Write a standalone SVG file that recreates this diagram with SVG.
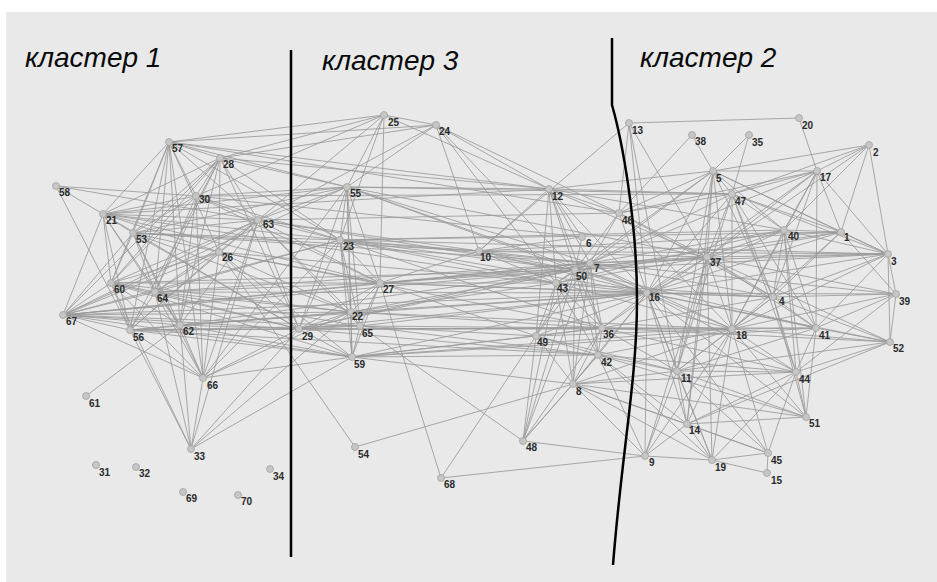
<svg xmlns="http://www.w3.org/2000/svg" width="937" height="582" viewBox="0 0 937 582">
<style>
.e path{fill:none;stroke:#999;stroke-width:0.85}
.n circle{fill:#c6c6c6;stroke:#a2a2a2;stroke-width:0.8}
.n text{font-family:"Liberation Sans",Arial,sans-serif;font-weight:bold;font-size:10px;fill:#2a2a2a}
.t{font-family:"Liberation Sans",Arial,sans-serif;font-style:italic;font-size:28px;fill:#0a0a0a}
.b{fill:none;stroke:#000;stroke-width:2.5}
</style>
<rect x="0" y="0" width="937" height="582" fill="#fff"/>
<rect x="6" y="12" width="931" height="570" fill="#e9e9e9"/>
<g class="e" id="connectors">
<path d="M169 142L103 214M169 142L133 233M169 142L196 196M169 142L220 158M169 142L111 283M169 142L155 292M169 142L219 252M169 142L258 220M169 142L130 330M169 142L180 325M169 142L203 378M169 142L384 115M169 142L436 125M169 142L347 187M169 142L340 240M169 142L619 213M169 142L549 189"/>
<path d="M220 158L103 214M220 158L133 233M220 158L196 196M220 158L219 252M220 158L258 220M220 158L111 283M220 158L155 292M220 158L130 330M220 158L180 325M220 158L63 315M220 158L384 115M220 158L436 125M220 158L347 187M220 158L340 240M220 158L299 329M220 158L549 189"/>
<path d="M56 186L103 214M56 186L196 196M56 186L130 330M56 186L258 220"/>
<path d="M196 196L103 214M196 196L133 233M196 196L258 220M196 196L155 292M196 196L180 325M196 196L203 378M196 196L111 283M196 196L347 187M196 196L340 240M196 196L384 115M196 196L380 283M196 196L582 237M196 196L732 194"/>
<path d="M103 214L133 233M103 214L111 283M103 214L155 292M103 214L258 220M103 214L219 252M103 214L130 330M103 214L180 325M103 214L63 315M103 214L340 240M103 214L347 187M103 214L299 329M103 214L380 283M103 214L549 189M103 214L556 283"/>
<path d="M133 233L258 220M133 233L219 252M133 233L111 283M133 233L155 292M133 233L203 378M133 233L63 315M133 233L180 325M133 233L340 240M133 233L299 329M133 233L347 187M133 233L351 312M133 233L479 251M133 233L590 263"/>
<path d="M258 220L219 252M258 220L111 283M258 220L155 292M258 220L63 315M258 220L130 330M258 220L180 325M258 220L203 378M258 220L191 449M258 220L347 187M258 220L340 240M258 220L299 329M258 220L351 312M258 220L380 283M258 220L384 115M258 220L436 125M258 220L360 326M258 220L619 213M258 220L479 251M258 220L575 270"/>
<path d="M219 252L111 283M219 252L155 292M219 252L63 315M219 252L130 330M219 252L203 378M219 252L299 329M219 252L351 312M219 252L380 283M219 252L355 447M219 252L352 357M219 252L556 283M219 252L602 328"/>
<path d="M111 283L155 292M111 283L63 315M111 283L130 330M111 283L180 325M111 283L203 378M111 283L191 449M111 283L299 329M111 283L351 312M111 283L352 357M111 283L380 283M111 283L575 270"/>
<path d="M155 292L63 315M155 292L130 330M155 292L180 325M155 292L203 378M155 292L191 449M155 292L299 329M155 292L351 312M155 292L380 283M155 292L360 326M155 292L340 240M155 292L647 293M155 292L590 263"/>
<path d="M63 315L130 330M63 315L180 325M63 315L203 378M63 315L340 240M63 315L299 329M63 315L351 312M63 315L380 283M63 315L360 326M63 315L352 357M63 315L347 187M63 315L590 263M63 315L575 270M63 315L647 293"/>
<path d="M130 330L180 325M130 330L203 378M130 330L191 449M130 330L299 329M130 330L351 312M130 330L352 357M130 330L360 326M130 330L602 328M130 330L598 355"/>
<path d="M180 325L203 378M180 325L191 449M180 325L86 396M180 325L299 329M180 325L352 357M180 325L351 312M180 325L575 270M180 325L647 293"/>
<path d="M203 378L191 449M203 378L299 329M203 378L352 357M203 378L351 312M203 378L340 240M203 378L347 187"/>
<path d="M191 449L299 329M191 449L352 357M191 449L351 312"/>
<path d="M384 115L436 125M384 115L380 283M384 115L347 187M384 115L340 240M384 115L549 189"/>
<path d="M436 125L549 189M436 125L479 251M436 125L556 283M436 125L575 270M436 125L619 213M436 125L347 187"/>
<path d="M347 187L340 240M347 187L380 283M347 187L351 312M347 187L299 329M347 187L360 326M347 187L352 357M347 187L549 189M347 187L575 270M347 187L590 263M347 187L732 194M347 187L707 257M347 187L647 293"/>
<path d="M340 240L380 283M340 240L351 312M340 240L299 329M340 240L360 326M340 240L352 357M340 240L479 251M340 240L575 270M340 240L590 263M340 240L556 283M340 240L602 328M340 240L647 293M340 240L888 254M340 240L784 230M340 240L841 232"/>
<path d="M380 283L351 312M380 283L360 326M380 283L352 357M380 283L299 329M380 283L479 251M380 283L441 478M380 283L575 270M380 283L556 283M380 283L590 263M380 283L536 336M380 283L647 293M380 283L773 297M380 283L707 257"/>
<path d="M351 312L360 326M351 312L299 329M351 312L352 357M351 312L575 270M351 312L602 328M351 312L556 283M351 312L647 293M351 312L732 329"/>
<path d="M360 326L299 329M360 326L352 357M360 326L536 336M360 326L602 328M360 326L598 355M360 326L647 293M360 326L523 441"/>
<path d="M299 329L352 357M299 329L575 270M299 329L602 328M299 329L598 355M299 329L590 263M299 329L647 293M299 329L732 329"/>
<path d="M352 357L602 328M352 357L598 355M352 357L536 336M352 357L573 384M352 357L647 293M352 357L732 329M352 357L816 328"/>
<path d="M479 251L575 270M479 251L590 263M479 251L556 283M479 251L549 189M479 251L582 237M479 251L647 293M479 251L707 257M479 251L888 254M479 251L841 232M479 251L629 123"/>
<path d="M549 189L582 237M549 189L590 263M549 189L575 270M549 189L556 283M549 189L536 336M549 189L619 213M549 189L602 328M549 189L647 293M549 189L707 257M549 189L732 194M549 189L784 230M549 189L713 171"/>
<path d="M582 237L575 270"/>
<path d="M590 263L575 270M590 263L556 283M590 263L536 336M590 263L602 328M590 263L598 355M590 263L573 384M590 263L619 213M590 263L647 293M590 263L707 257M590 263L773 297M590 263L888 254M590 263L784 230M590 263L732 329M590 263L896 294M590 263L713 171M590 263L817 171M590 263L523 441"/>
<path d="M575 270L556 283M575 270L536 336M575 270L602 328M575 270L598 355M575 270L573 384M575 270L619 213M575 270L647 293M575 270L707 257M575 270L888 254M575 270L816 328M575 270L841 232M575 270L732 194M575 270L713 171M575 270L523 441"/>
<path d="M556 283L536 336M556 283L602 328M556 283L598 355M556 283L573 384M556 283L647 293M556 283L707 257M556 283L773 297M556 283L732 329M556 283L784 230M556 283L523 441"/>
<path d="M536 336L602 328M536 336L598 355M536 336L573 384M536 336L523 441M536 336L647 293M536 336L732 329M536 336L677 371M536 336L441 478"/>
<path d="M602 328L598 355M602 328L573 384M602 328L523 441M602 328L647 293M602 328L732 329M602 328L707 257M602 328L816 328M602 328L677 371M602 328L796 372M602 328L890 342M602 328L773 297"/>
<path d="M598 355L573 384M598 355L523 441M598 355L647 293M598 355L677 371M598 355L732 329M598 355L687 424M598 355L645 456M598 355L712 460M598 355L806 417M598 355L796 372"/>
<path d="M573 384L523 441M573 384L355 447M573 384L677 371M573 384L687 424M573 384L645 456M573 384L712 460M573 384L768 453M573 384L647 293M573 384L732 329M573 384L806 417M573 384L796 372"/>
<path d="M523 441L645 456M441 478L645 456"/>
<path d="M619 213L647 293M619 213L707 257M619 213L629 123M619 213L692 135M619 213L713 171M619 213L817 171M619 213L732 194M619 213L773 297M619 213L732 329"/>
<path d="M629 123L799 118M629 123L647 293M629 123L707 257M629 123L677 371M799 118L817 171M692 135L713 171M749 135L713 171M749 135L732 194"/>
<path d="M869 145L713 171M869 145L817 171M869 145L888 254M869 145L841 232M869 145L784 230M869 145L707 257M869 145L732 194"/>
<path d="M713 171L817 171M713 171L732 194M713 171L707 257M713 171L647 293M713 171L773 297M713 171L732 329M713 171L841 232M713 171L784 230M713 171L888 254M713 171L677 371M713 171L687 424"/>
<path d="M817 171L732 194M817 171L707 257M817 171L784 230M817 171L841 232M817 171L888 254M817 171L647 293M817 171L773 297M817 171L732 329M817 171L816 328"/>
<path d="M732 194L707 257M732 194L784 230M732 194L647 293M732 194L732 329M732 194L773 297M732 194L816 328M732 194L796 372M732 194L677 371M732 194L841 232M732 194L888 254"/>
<path d="M784 230L841 232M784 230L707 257M784 230L647 293M784 230L773 297M784 230L732 329M784 230L816 328M784 230L888 254M784 230L796 372M784 230L806 417"/>
<path d="M841 232L888 254M841 232L707 257M841 232L647 293M841 232L773 297M841 232L732 329M841 232L896 294"/>
<path d="M888 254L707 257M888 254L647 293M888 254L896 294M888 254L890 342M888 254L816 328M888 254L732 329M888 254L773 297"/>
<path d="M707 257L647 293M707 257L773 297M707 257L732 329M707 257L816 328M707 257L677 371M707 257L687 424M707 257L645 456M707 257L712 460M707 257L896 294M707 257L890 342"/>
<path d="M647 293L773 297M647 293L732 329M647 293L816 328M647 293L677 371M647 293L687 424M647 293L645 456M647 293L712 460M647 293L768 453M647 293L796 372M647 293L806 417M647 293L896 294M647 293L890 342"/>
<path d="M773 297L732 329M773 297L816 328M773 297L896 294M773 297L890 342M773 297L796 372M773 297L806 417M773 297L677 371"/>
<path d="M896 294L890 342M896 294L816 328M896 294L732 329M896 294L796 372"/>
<path d="M732 329L816 328M732 329L796 372M732 329L677 371M732 329L687 424M732 329L645 456M732 329L712 460M732 329L768 453M732 329L806 417M732 329L890 342"/>
<path d="M816 328L890 342M816 328L796 372M816 328L806 417M816 328L677 371M890 342L796 372M890 342L677 371M890 342L687 424"/>
<path d="M796 372L806 417M796 372L677 371M796 372L687 424M796 372L712 460M796 372L768 453"/>
<path d="M677 371L687 424M677 371L645 456M677 371L712 460M677 371L768 453M677 371L806 417"/>
<path d="M687 424L645 456M687 424L712 460M687 424L768 453M687 424L806 417M645 456L712 460M712 460L767 473M712 460L768 453M768 453L767 473"/>
</g>
<path class="b" d="M291 50L291 557"/>
<path class="b" d="M612 38L612 105C622 140 637 220 637 300C637 380 622 450 613 565"/>
<text class="t" x="25" y="67">кластер 1</text>
<text class="t" x="322" y="70">кластер 3</text>
<text class="t" x="640" y="67">кластер 2</text>
<g id="n57" class="n"><circle cx="169" cy="142" r="3.5"/><text x="172" y="152">57</text></g>
<g id="n28" class="n"><circle cx="220" cy="158" r="3.5"/><text x="223" y="168">28</text></g>
<g id="n58" class="n"><circle cx="56" cy="186" r="3.5"/><text x="59" y="196">58</text></g>
<g id="n30" class="n"><circle cx="196" cy="196" r="3.5"/><text x="199" y="203">30</text></g>
<g id="n21" class="n"><circle cx="103" cy="214" r="3.5"/><text x="106" y="224">21</text></g>
<g id="n53" class="n"><circle cx="133" cy="233" r="3.5"/><text x="136" y="243">53</text></g>
<g id="n63" class="n"><circle cx="258" cy="220" r="3.5"/><text x="263" y="228">63</text></g>
<g id="n26" class="n"><circle cx="219" cy="252" r="3.5"/><text x="222" y="261">26</text></g>
<g id="n60" class="n"><circle cx="111" cy="283" r="3.5"/><text x="114" y="293">60</text></g>
<g id="n64" class="n"><circle cx="155" cy="292" r="3.5"/><text x="157" y="302">64</text></g>
<g id="n67" class="n"><circle cx="63" cy="315" r="3.5"/><text x="66" y="325">67</text></g>
<g id="n56" class="n"><circle cx="130" cy="330" r="3.5"/><text x="133" y="341">56</text></g>
<g id="n62" class="n"><circle cx="180" cy="325" r="3.5"/><text x="183" y="335">62</text></g>
<g id="n66" class="n"><circle cx="203" cy="378" r="3.5"/><text x="207" y="389">66</text></g>
<g id="n61" class="n"><circle cx="86" cy="396" r="3.5"/><text x="89" y="407">61</text></g>
<g id="n33" class="n"><circle cx="191" cy="449" r="3.5"/><text x="194" y="460">33</text></g>
<g id="n31" class="n"><circle cx="96" cy="465" r="3.5"/><text x="99" y="476">31</text></g>
<g id="n32" class="n"><circle cx="136" cy="467" r="3.5"/><text x="139" y="477">32</text></g>
<g id="n69" class="n"><circle cx="183" cy="492" r="3.5"/><text x="186" y="502">69</text></g>
<g id="n70" class="n"><circle cx="238" cy="495" r="3.5"/><text x="241" y="505">70</text></g>
<g id="n34" class="n"><circle cx="270" cy="469" r="3.5"/><text x="273" y="480">34</text></g>
<g id="n25" class="n"><circle cx="384" cy="115" r="3.5"/><text x="388" y="126">25</text></g>
<g id="n24" class="n"><circle cx="436" cy="125" r="3.5"/><text x="439" y="135">24</text></g>
<g id="n55" class="n"><circle cx="347" cy="187" r="3.5"/><text x="350" y="197">55</text></g>
<g id="n23" class="n"><circle cx="340" cy="240" r="3.5"/><text x="343" y="250">23</text></g>
<g id="n10" class="n"><circle cx="479" cy="251" r="3.5"/><text x="480" y="261">10</text></g>
<g id="n27" class="n"><circle cx="380" cy="283" r="3.5"/><text x="383" y="293">27</text></g>
<g id="n22" class="n"><circle cx="351" cy="312" r="3.5"/><text x="352" y="320">22</text></g>
<g id="n65" class="n"><circle cx="360" cy="326" r="3.5"/><text x="362" y="337">65</text></g>
<g id="n29" class="n"><circle cx="299" cy="329" r="3.5"/><text x="302" y="340">29</text></g>
<g id="n59" class="n"><circle cx="352" cy="357" r="3.5"/><text x="354" y="368">59</text></g>
<g id="n54" class="n"><circle cx="355" cy="447" r="3.5"/><text x="358" y="458">54</text></g>
<g id="n68" class="n"><circle cx="441" cy="478" r="3.5"/><text x="444" y="488">68</text></g>
<g id="n12" class="n"><circle cx="549" cy="189" r="3.5"/><text x="552" y="200">12</text></g>
<g id="n6" class="n"><circle cx="582" cy="237" r="3.5"/><text x="586" y="247">6</text></g>
<g id="n7" class="n"><circle cx="590" cy="263" r="3.5"/><text x="594" y="272">7</text></g>
<g id="n50" class="n"><circle cx="575" cy="270" r="3.5"/><text x="576" y="280">50</text></g>
<g id="n43" class="n"><circle cx="556" cy="283" r="3.5"/><text x="557" y="292">43</text></g>
<g id="n49" class="n"><circle cx="536" cy="336" r="3.5"/><text x="537" y="346">49</text></g>
<g id="n36" class="n"><circle cx="602" cy="328" r="3.5"/><text x="603" y="338">36</text></g>
<g id="n42" class="n"><circle cx="598" cy="355" r="3.5"/><text x="601" y="366">42</text></g>
<g id="n8" class="n"><circle cx="573" cy="384" r="3.5"/><text x="576" y="395">8</text></g>
<g id="n48" class="n"><circle cx="523" cy="441" r="3.5"/><text x="526" y="451">48</text></g>
<g id="n46" class="n"><circle cx="619" cy="213" r="3.5"/><text x="622" y="224">46</text></g>
<g id="n13" class="n"><circle cx="629" cy="123" r="3.5"/><text x="632" y="134">13</text></g>
<g id="n20" class="n"><circle cx="799" cy="118" r="3.5"/><text x="802" y="129">20</text></g>
<g id="n38" class="n"><circle cx="692" cy="135" r="3.5"/><text x="695" y="145">38</text></g>
<g id="n35" class="n"><circle cx="749" cy="135" r="3.5"/><text x="752" y="146">35</text></g>
<g id="n2" class="n"><circle cx="869" cy="145" r="3.5"/><text x="873" y="156">2</text></g>
<g id="n5" class="n"><circle cx="713" cy="171" r="3.5"/><text x="716" y="182">5</text></g>
<g id="n17" class="n"><circle cx="817" cy="171" r="3.5"/><text x="820" y="181">17</text></g>
<g id="n47" class="n"><circle cx="732" cy="194" r="3.5"/><text x="735" y="205">47</text></g>
<g id="n40" class="n"><circle cx="784" cy="230" r="3.5"/><text x="788" y="240">40</text></g>
<g id="n1" class="n"><circle cx="841" cy="232" r="3.5"/><text x="844" y="241">1</text></g>
<g id="n3" class="n"><circle cx="888" cy="254" r="3.5"/><text x="891" y="265">3</text></g>
<g id="n37" class="n"><circle cx="707" cy="257" r="3.5"/><text x="710" y="266">37</text></g>
<g id="n16" class="n"><circle cx="647" cy="293" r="3.5"/><text x="649" y="301">16</text></g>
<g id="n4" class="n"><circle cx="773" cy="297" r="3.5"/><text x="779" y="305">4</text></g>
<g id="n39" class="n"><circle cx="896" cy="294" r="3.5"/><text x="899" y="305">39</text></g>
<g id="n18" class="n"><circle cx="732" cy="329" r="3.5"/><text x="736" y="339">18</text></g>
<g id="n41" class="n"><circle cx="816" cy="328" r="3.5"/><text x="819" y="339">41</text></g>
<g id="n52" class="n"><circle cx="890" cy="342" r="3.5"/><text x="893" y="352">52</text></g>
<g id="n44" class="n"><circle cx="796" cy="372" r="3.5"/><text x="799" y="383">44</text></g>
<g id="n11" class="n"><circle cx="677" cy="371" r="3.5"/><text x="681" y="382">11</text></g>
<g id="n51" class="n"><circle cx="806" cy="417" r="3.5"/><text x="809" y="427">51</text></g>
<g id="n14" class="n"><circle cx="687" cy="424" r="3.5"/><text x="689" y="434">14</text></g>
<g id="n9" class="n"><circle cx="645" cy="456" r="3.5"/><text x="649" y="466">9</text></g>
<g id="n19" class="n"><circle cx="712" cy="460" r="3.5"/><text x="715" y="471">19</text></g>
<g id="n45" class="n"><circle cx="768" cy="453" r="3.5"/><text x="771" y="464">45</text></g>
<g id="n15" class="n"><circle cx="767" cy="473" r="3.5"/><text x="771" y="484">15</text></g>
</svg>
